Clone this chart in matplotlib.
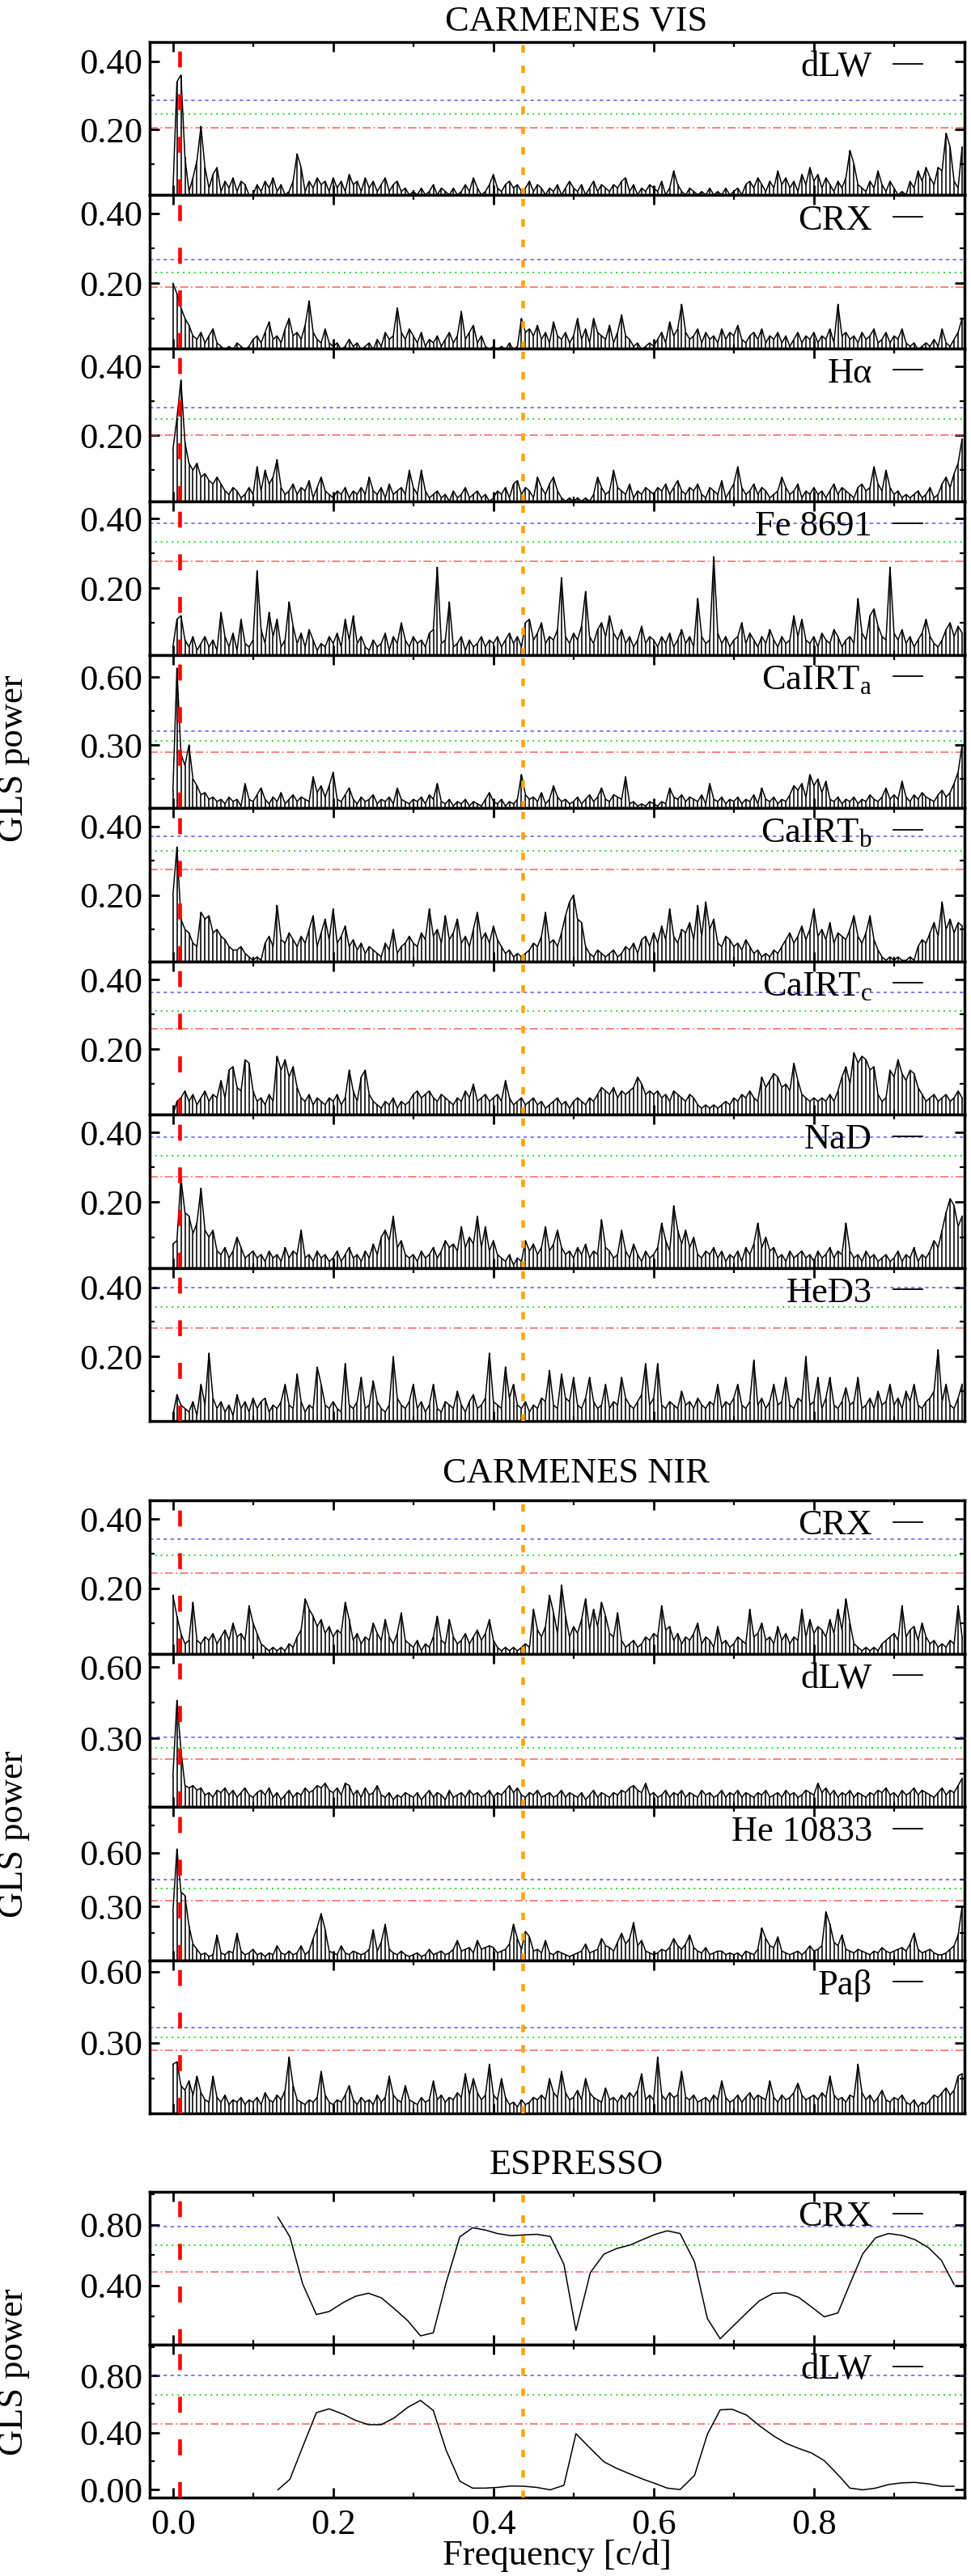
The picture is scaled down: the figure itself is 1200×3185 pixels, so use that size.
import numpy as np
import matplotlib
matplotlib.use('Agg')
import matplotlib.pyplot as plt
from matplotlib.ticker import FormatStrFormatter

plt.rcParams['font.family'] = ['Liberation Serif', 'DejaVu Serif']
plt.rcParams['mathtext.fontset'] = 'custom'
plt.rcParams['mathtext.rm'] = 'Liberation Serif'
plt.rcParams['mathtext.it'] = 'Liberation Serif:italic'

# ---------------- data ----------------
# frequency grid of the CARMENES periodograms (c/d), values below in units of 0.01 GLS power
freq = np.round(np.arange(198) * 0.005, 3)

vis_dlw = [2,34,36,12,2,6,11,21,9,3,7,9,2,5,3,6,2,5,4,1,
           1,4,2,5,3,6,2,4,1,2,5,13,9,2,5,3,6,4,5,2,
           6,3,5,2,7,4,5,2,6,3,5,2,4,6,2,4,5,2,3,1,
           2,1,3,1,2,4,1,3,2,1,3,1,2,4,2,6,3,1,2,4,
           7,3,2,4,5,3,4,2,3,5,2,4,3,1,3,2,4,1,3,5,
           3,2,4,1,3,5,2,4,3,2,4,3,5,6,2,4,1,3,2,4,
           3,2,5,1,3,8,4,2,1,3,2,1,2,1,3,1,2,1,3,1,
           2,3,1,4,5,3,6,4,2,5,3,8,4,6,3,5,2,7,4,9,
           5,7,3,6,4,2,5,3,6,14,10,4,3,2,5,3,8,4,2,5,
           3,1,2,1,5,3,8,5,9,6,4,9,8,19,15,5,3,15]
vis_crx = [20,17,13,10,8,5,4,6,3,5,7,3,2,1,2,1,3,2,1,2,
           4,5,3,6,9,4,5,3,7,10,5,6,4,8,15,6,4,3,7,3,
           2,3,1,2,4,2,3,1,2,3,1,4,2,6,4,5,13,6,4,7,
           5,3,6,2,4,3,5,2,4,6,3,5,12,4,6,8,3,5,2,1,
           2,1,2,1,3,1,2,10,6,7,5,8,4,6,3,9,5,4,6,3,
           5,10,4,7,3,10,6,5,4,8,3,6,11,5,4,2,3,1,2,3,
           2,4,6,3,9,5,7,14,6,4,5,7,3,6,4,5,3,7,4,6,
           5,8,4,3,5,6,4,7,3,5,4,6,3,5,2,4,6,3,5,4,
           6,3,5,4,7,3,14,5,6,4,5,3,6,4,5,7,3,4,6,3,
           5,4,7,3,2,3,1,2,3,2,4,2,7,3,2,4,6,10]
vis_halpha = [16,25,36,18,12,10,12,8,9,7,6,8,6,4,3,5,4,2,3,5,
              3,11,4,10,6,8,13,5,3,4,6,3,5,4,7,2,5,8,4,3,
              2,4,3,5,2,4,3,5,3,8,4,3,5,2,6,3,4,5,3,10,
              5,3,10,4,2,3,4,2,3,1,4,2,3,5,2,3,4,2,3,1,
              2,4,3,5,2,6,7,3,5,4,2,8,5,3,6,8,4,2,1,2,
              1,2,1,2,1,3,8,5,3,4,10,5,4,3,6,2,4,3,5,4,
              3,5,4,6,3,5,7,4,3,5,4,6,3,2,5,4,3,7,2,4,
              6,11,5,3,4,6,3,5,4,2,3,4,8,5,3,4,6,2,4,3,
              5,3,4,2,4,6,3,5,4,3,2,5,6,4,5,11,6,4,10,5,
              3,4,2,3,2,3,4,2,3,5,2,3,6,8,5,9,12,19]
vis_fe = [3,11,12,5,3,6,2,4,6,3,5,2,13,6,3,7,2,11,4,3,
          5,25,8,4,13,6,11,3,5,16,9,4,7,3,8,5,2,4,3,6,
          4,7,3,11,5,12,4,6,3,2,5,3,4,7,2,6,4,10,5,3,
          6,4,5,3,7,8,26,4,5,16,3,4,6,2,5,3,4,6,3,5,
          4,6,3,5,7,4,6,3,10,11,5,7,10,4,6,5,8,23,6,4,
          7,5,9,19,6,4,8,10,6,12,7,5,8,4,6,3,5,9,4,6,
          5,3,6,4,7,3,5,8,4,6,3,17,6,4,5,29,7,4,6,3,
          5,6,10,4,7,5,3,6,4,8,5,3,6,4,5,12,6,11,5,4,
          6,3,7,5,4,8,6,3,5,6,4,17,7,5,12,14,9,6,5,26,
          7,5,8,4,6,3,5,7,11,6,4,3,5,8,10,6,9,7]
vis_cairt_a = [10,64,26,21,30,15,12,8,9,6,7,5,6,4,7,5,6,3,13,6,
               5,8,11,6,4,7,5,9,4,6,8,5,7,6,5,16,9,12,7,12,
               18,6,5,8,11,6,4,7,5,6,8,4,6,5,7,4,11,6,5,4,
               6,5,7,4,8,6,13,5,4,6,3,5,4,6,3,5,4,3,6,9,
               5,4,6,3,5,4,6,17,8,6,7,5,9,4,6,12,7,5,6,4,
               5,7,4,6,8,5,7,11,6,5,8,7,6,16,4,5,3,4,3,5,
               4,3,5,4,11,7,6,8,5,7,6,5,8,4,13,6,5,7,4,6,
               5,7,4,6,5,8,4,11,6,5,7,4,6,5,8,12,10,13,7,17,
               12,15,9,14,6,5,7,4,6,5,7,4,6,5,8,6,5,7,11,6,
               8,6,14,7,5,8,6,9,7,6,5,8,10,7,9,13,18,30]
vis_cairt_b = [20,34,13,10,9,6,5,15,13,14,9,10,8,7,5,4,4,5,3,2,
               1,2,1,6,8,5,17,7,6,9,7,5,8,6,10,14,5,9,13,7,
               16,6,8,11,5,7,4,6,3,5,4,3,2,6,4,10,3,5,6,8,
               6,5,9,7,16,8,10,6,14,7,9,13,6,8,5,10,15,7,9,6,
               11,7,5,3,4,2,3,2,3,4,6,5,8,15,6,7,5,9,14,18,
               20,13,12,5,3,2,4,3,2,3,4,2,3,5,4,6,3,7,8,5,
               9,6,11,7,16,8,6,10,9,12,7,17,8,18,10,13,6,5,8,7,
               5,6,4,7,5,3,4,2,3,2,4,3,5,7,9,6,8,11,7,10,
               16,8,10,7,12,6,9,8,7,10,14,8,6,9,14,7,4,2,1,2,
               1,2,1,1,2,1,5,7,6,9,12,8,18,10,13,9,12,11]
vis_cairt_c = [1,5,6,8,5,7,4,6,8,5,7,6,11,6,14,15,9,8,17,16,
               8,5,6,4,7,5,18,14,17,12,15,9,6,5,7,4,6,5,4,6,
               5,7,4,6,14,8,5,12,14,7,5,4,3,5,4,6,3,5,4,5,
               7,8,6,7,8,6,5,7,6,5,4,6,5,8,6,10,5,6,7,5,
               6,7,5,11,6,4,5,6,4,5,6,4,5,3,4,5,6,4,5,3,
               5,6,5,4,6,5,7,9,8,7,9,6,8,7,8,9,12,10,7,8,
               7,8,6,7,5,8,7,6,5,7,6,4,3,4,3,4,3,4,5,4,
               6,5,7,6,8,6,5,12,9,11,13,12,9,10,8,16,11,7,6,5,
               6,5,6,5,7,5,8,12,15,10,19,16,18,17,14,15,7,5,6,14,
               12,17,13,11,14,13,9,7,5,6,7,5,6,7,5,6,8,6]
vis_nad = [8,9,27,17,16,11,14,24,12,10,12,6,5,7,4,6,10,7,4,5,
           6,4,5,3,6,4,5,3,7,4,6,5,12,4,5,3,6,4,5,3,
           4,6,3,5,7,4,5,3,6,4,8,5,10,12,9,16,7,9,5,4,
           5,3,6,4,5,7,4,6,9,7,8,6,13,7,10,8,16,7,13,6,
           9,5,4,3,5,2,4,3,9,6,8,5,7,13,6,8,12,7,5,6,
           4,7,5,8,4,6,5,15,7,6,4,5,12,6,4,8,5,3,6,4,
           5,7,14,9,6,19,12,8,12,7,10,5,4,6,5,7,4,6,3,5,
           4,6,3,7,5,8,14,7,10,6,7,4,5,3,6,4,5,6,4,5,
           3,6,4,5,7,4,6,5,14,6,4,5,3,6,4,5,3,4,5,3,
           4,6,3,5,4,7,3,5,4,6,9,7,12,17,21,19,13,16]
vis_hed3 = [3,9,6,5,4,7,3,12,6,21,8,5,7,4,6,3,9,5,7,4,
            8,5,7,8,4,6,5,7,12,6,5,15,7,4,6,5,17,12,6,5,
            7,5,4,18,6,5,7,14,5,6,13,7,5,4,6,20,8,6,5,7,
            12,5,7,4,6,12,5,4,7,6,5,10,6,4,7,9,5,6,8,21,
            7,6,5,17,8,12,6,5,7,4,6,5,8,7,16,6,5,15,8,7,
            14,6,5,8,14,7,5,6,12,5,7,6,14,8,6,5,7,9,18,6,
            8,18,6,5,7,6,5,10,6,7,5,8,6,5,7,6,12,5,7,6,
            8,12,6,5,7,19,6,8,5,7,12,6,7,14,6,5,8,7,20,6,
            7,14,5,8,14,6,5,7,11,6,7,14,5,6,8,5,10,6,7,12,
            6,8,5,10,7,12,6,5,7,8,10,22,7,12,6,5,8,12]

nir_crx = [18,12,7,4,5,16,5,4,6,5,7,4,6,8,5,10,6,7,5,15,
           10,7,4,3,2,3,2,3,2,4,3,6,8,17,14,12,9,11,7,9,
           6,8,7,16,11,5,7,4,6,5,10,7,5,11,6,4,7,13,5,4,
           3,5,2,4,3,6,12,5,4,11,6,4,5,7,4,6,8,5,7,11,
           5,3,2,3,2,3,2,3,4,3,14,8,6,9,18,13,7,21,12,6,
           9,7,11,17,8,14,9,16,12,7,6,13,5,3,4,5,3,4,6,5,
           7,6,15,8,9,5,7,4,6,5,7,10,4,6,5,3,9,4,5,3,
           4,6,5,4,14,6,7,10,5,6,4,9,5,7,4,6,5,14,6,11,
           7,9,8,6,11,7,14,8,17,10,4,3,2,3,2,3,2,4,5,6,
           7,5,15,6,8,9,5,10,6,4,5,3,4,3,5,4,15,6]
nir_dlw = [14,46,25,10,9,10,8,9,6,7,5,8,7,9,6,8,5,7,9,6,
           5,7,8,6,9,5,7,4,6,8,5,7,6,9,7,8,10,9,11,8,
           7,9,6,11,10,6,8,5,9,6,7,10,6,5,7,4,6,5,7,6,
           5,7,4,6,8,5,7,6,4,8,5,6,7,5,8,6,7,5,6,8,
           5,7,6,8,10,7,9,6,5,7,6,8,5,6,7,5,6,8,5,7,
           6,5,7,4,6,8,5,7,6,5,7,6,8,7,9,10,8,7,11,6,
           7,5,6,8,5,7,6,8,5,7,6,5,8,6,7,5,6,8,5,7,
           6,8,5,7,6,5,7,6,8,5,6,7,5,8,6,7,5,6,8,7,
           6,11,7,9,6,8,5,7,6,8,5,7,6,5,7,6,8,7,9,6,
           7,5,8,6,7,9,6,8,7,6,5,7,9,6,8,7,10,13]
nir_he = [27,62,38,36,19,9,6,3,4,2,3,14,4,3,5,4,15,5,3,4,
          6,3,4,2,4,3,8,4,3,5,3,4,8,3,5,12,18,26,17,5,
          4,3,8,4,3,5,4,3,4,6,17,5,10,20,6,4,3,5,3,2,
          3,4,2,3,6,3,4,5,3,4,6,11,5,6,7,4,11,6,7,8,
          7,4,5,6,9,20,12,6,16,13,5,6,4,11,4,3,5,4,3,2,
          3,4,5,9,4,5,6,12,8,7,5,10,15,9,12,21,8,11,5,4,
          3,4,6,5,7,12,8,6,9,14,7,5,4,7,3,4,5,5,3,4,
          3,4,2,5,4,3,6,18,12,8,7,13,5,4,3,4,5,3,5,8,
          5,6,8,27,20,10,8,14,6,5,4,6,5,4,3,5,4,7,5,4,
          5,6,7,5,9,15,6,4,5,6,4,3,3,4,6,8,14,30]
nir_pab = [21,22,12,10,14,8,16,9,6,5,16,7,5,8,4,6,5,7,4,6,
           5,7,4,9,6,5,8,6,10,24,12,6,5,4,6,5,7,18,8,5,
           4,6,5,8,12,6,4,7,5,6,4,8,5,7,16,8,6,5,12,6,
           5,4,7,5,6,14,6,8,5,7,6,9,7,17,8,15,9,6,8,21,
           8,6,15,7,4,5,3,6,4,5,7,6,8,6,15,9,7,18,9,6,
           7,10,6,15,9,7,6,5,11,6,7,5,8,6,9,7,10,17,6,8,
           6,24,8,6,9,7,8,18,7,6,8,5,6,7,5,8,6,14,7,5,
           6,8,5,7,9,6,8,7,6,14,7,5,8,6,7,9,13,8,6,7,
           8,6,9,7,16,8,6,7,5,8,7,21,9,6,8,5,7,10,6,5,
           7,6,8,5,4,6,3,5,4,6,8,7,9,11,8,10,16,17]

esp_freq = [0.131,0.146,0.162,0.179,0.195,0.213,0.228,0.244,0.260,0.276,0.293,0.309,0.325,
            0.341,0.358,0.374,0.390,0.405,0.422,0.438,0.454,0.471,0.488,0.503,0.521,0.538,
            0.554,0.571,0.586,0.602,0.617,0.633,0.651,0.667,0.683,0.698,0.716,0.732,0.749,
            0.765,0.781,0.797,0.813,0.830,0.845,0.861,0.877,0.893,0.910,0.926,0.943,0.959,0.975]
esp_crx = [0.85,0.72,0.41,0.21,0.23,0.29,0.33,0.35,0.32,0.25,0.17,0.07,0.09,
           0.42,0.72,0.78,0.765,0.742,0.728,0.733,0.737,0.723,0.54,0.105,0.486,0.607,
           0.644,0.667,0.702,0.737,0.76,0.742,0.556,0.184,0.051,0.128,0.221,0.30,0.349,
           0.353,0.323,0.26,0.195,0.221,0.412,0.609,0.714,0.742,0.73,0.702,0.649,0.567,0.407]
esp_dlw = [0.0,0.074,0.302,0.54,0.567,0.528,0.486,0.456,0.456,0.503,0.577,0.626,0.555,
           0.277,0.061,0.012,0.012,0.017,0.027,0.025,0.017,0.0,0.032,0.393,0.29,0.196,
           0.15,0.11,0.076,0.044,0.012,0.002,0.101,0.388,0.56,0.564,0.523,0.449,0.38,
           0.326,0.29,0.258,0.204,0.106,0.012,0.0,0.012,0.037,0.049,0.052,0.042,0.025,0.025]

# false-alarm-probability levels (10%, 1%, 0.1%) per panel
fap_levels = {
    'vis_dlw': (0.205, 0.247, 0.287), 'vis_crx': (0.189, 0.230, 0.267),
    'vis_halpha': (0.200, 0.248, 0.280), 'vis_fe': (0.277, 0.333, 0.386),
    'vis_cairt_a': (0.268, 0.318, 0.361), 'vis_cairt_b': (0.274, 0.328, 0.372),
    'vis_cairt_c': (0.258, 0.309, 0.363), 'vis_nad': (0.272, 0.333, 0.386),
    'vis_hed3': (0.283, 0.344, 0.400),
    'nir_crx': (0.245, 0.296, 0.341), 'nir_dlw': (0.211, 0.259, 0.303),
    'nir_he': (0.330, 0.398, 0.450), 'nir_pab': (0.270, 0.324, 0.365),
    'esp_crx': (0.488, 0.667, 0.790), 'esp_dlw': (0.460, 0.665, 0.800),
}
f_rot = 0.008      # red dashed line
f_orange = 0.437   # orange dashed line

# ---------------- layout ----------------
W, H, DPI = 1200, 3185, 100
fig = plt.figure(figsize=(W / DPI, H / DPI), dpi=DPI)
FS = 32
AX_L, AX_R = 185, 1192

def make_ax(top, h):
    return fig.add_axes([AX_L / W, 1 - (top + h) / H, (AX_R - AX_L) / W, h / H])

def panel(ax, key, x, y, label, ylim, major, minor, h, bottom=False, comb=True):
    fap = fap_levels[key]
    ax.axhline(fap[2], color='#3b3bff', lw=1.1, dashes=(2.8, 2.8), alpha=0.85, zorder=2)
    ax.axhline(fap[1], color='#00dd00', lw=1.3, dashes=(1.0, 2.8), zorder=2)
    ax.axhline(fap[0], color='#ff4040', lw=1.1, dashes=(6.5, 2.3, 1.2, 2.3), alpha=0.85, zorder=2)
    ax.plot(x, y, color='k', lw=1.1, label=label, zorder=3)
    if comb:
        ax.vlines(x, ylim[0], y, color='k', lw=1.15, zorder=3)
    ax.axvline(f_rot, color='red', lw=3.3, dashes=(4.3, 7.2), zorder=4)
    ax.axvline(f_orange, color='orange', lw=3.3, dashes=(2.0, 3.5), zorder=4)
    ax.set_xlim(-0.029, 0.988)
    ax.set_ylim(*ylim)
    ax.set_yticks(major)
    ax.set_yticks(minor, minor=True)
    ax.set_xticks([0.0, 0.2, 0.4, 0.6, 0.8])
    ax.set_xticks([0.1, 0.3, 0.5, 0.7, 0.9], minor=True)
    ax.yaxis.set_major_formatter(FormatStrFormatter('%.2f'))
    ax.xaxis.set_major_formatter(FormatStrFormatter('%.1f'))
    ax.tick_params(which='both', direction='in', top=True, right=True, labelsize=FS)
    ax.tick_params(which='major', length=8.6, width=2.0)
    ax.tick_params(which='minor', length=4.3, width=1.6)
    ax.tick_params(axis='y', pad=6)
    ax.tick_params(axis='x', pad=10)
    if not bottom:
        ax.tick_params(labelbottom=False)
    for s in ax.spines.values():
        s.set_linewidth(2.5)
    leg = ax.legend(loc='upper right', frameon=False, markerfirst=False, fontsize=FS,
                    handlelength=0.8, handletextpad=0.6, borderpad=0.0, borderaxespad=0.0,
                    bbox_to_anchor=(1 - 52 / (AX_R - AX_L), 1 - 11 / h))
    for ln in leg.get_lines():
        ln.set_linewidth(1.3)

def fr(v):
    return freq[:len(v)], np.array(v) / 100.0

T2 = (0.2, 0.4); M2 = (0.1, 0.3)
T3 = (0.3, 0.6); M3 = (0.15, 0.45)

vis = [
    ('vis_dlw', vis_dlw, 'dLW', (0.009, 0.456), T2, M2),
    ('vis_crx', vis_crx, 'CRX', (0.014, 0.451), T2, M2),
    ('vis_halpha', vis_halpha, 'H\u03b1', (0.009, 0.451), T2, M2),
    ('vis_fe', vis_fe, 'Fe 8691', (0.007, 0.449), T2, M2),
    ('vis_cairt_a', vis_cairt_a, r'CaIRT$_{\mathrm{a}}$', (0.021, 0.698), T3, M3),
    ('vis_cairt_b', vis_cairt_b, r'CaIRT$_{\mathrm{b}}$', (0.007, 0.453), T2, M2),
    ('vis_cairt_c', vis_cairt_c, r'CaIRT$_{\mathrm{c}}$', (0.012, 0.453), T2, M2),
    ('vis_nad', vis_nad, 'NaD', (0.012, 0.451), T2, M2),
    ('vis_hed3', vis_hed3, 'HeD3', (0.014, 0.456), T2, M2),
]
nir = [
    ('nir_crx', nir_crx, 'CRX', (0.012, 0.454), T2, M2),
    ('nir_dlw', nir_dlw, 'dLW', (0.010, 0.658), T3, M3),
    ('nir_he', nir_he, 'He 10833', (0.0, 0.855), T3, (0.15, 0.45, 0.75)),
    ('nir_pab', nir_pab, 'Pa\u03b2', (0.003, 0.648), T3, M3),
]

hv = 189.44
for i, (key, vals, lab, yl, mj, mn) in enumerate(vis):
    ax = make_ax(52 + i * hv, hv)
    x, y = fr(vals)
    panel(ax, key, x, y, lab, yl, mj, mn, hv)

hn = 189.5
for i, (key, vals, lab, yl, mj, mn) in enumerate(nir):
    ax = make_ax(1855 + i * hn, hn)
    x, y = fr(vals)
    panel(ax, key, x, y, lab, yl, mj, mn, hn)

he = 189.0
ax = make_ax(2710, he)
panel(ax, 'esp_crx', esp_freq, esp_crx, 'CRX', (0.012, 1.016), (0.4, 0.8), (0.2, 0.6, 1.0), he, comb=False)
ax = make_ax(2710 + he, he)
panel(ax, 'esp_dlw', esp_freq, esp_dlw, 'dLW', (-0.054, 1.016), (0.0, 0.4, 0.8), (0.2, 0.6, 1.0), he,
      bottom=True, comb=False)

# group titles, y labels, x label
for txt, base in [('CARMENES VIS', 38), ('CARMENES NIR', 1833), ('ESPRESSO', 2688)]:
    fig.text(712 / W, 1 - base / H, txt, ha='center', va='baseline', fontsize=FS)
for yc in (938, 2268, 2933):
    fig.text(17 / W, 1 - yc / H, 'GLS power', rotation=90, ha='center', va='center', fontsize=FS)
fig.text(688 / W, 1 - 3171 / H, 'Frequency [c/d]', ha='center', va='baseline', fontsize=FS)

fig.savefig('out.png', dpi=DPI)
